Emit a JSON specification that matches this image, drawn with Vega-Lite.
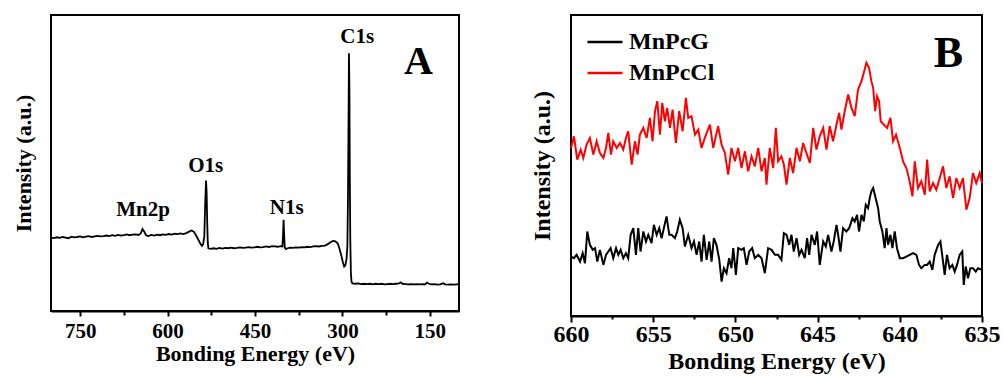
{
"$schema": "https://vega.github.io/schema/vega-lite/v6.json",
"background": "white",
"padding": {"left": 11, "top": 14, "right": 0, "bottom": 0},
"spacing": 65,
"config": {
 "view": {"stroke": "black", "strokeWidth": 2},
 "axis": {"grid": false, "domainColor": "black", "domainWidth": 2, "tickColor": "black", "tickWidth": 2, "labelColor": "black", "titleColor": "black", "labelFont": "'Liberation Serif', 'DejaVu Serif', serif", "titleFont": "'Liberation Serif', 'DejaVu Serif', serif", "labelFontWeight": "bold", "titleFontWeight": "bold", "labelOverlap": false, "labelFlush": false},
 "text": {"font": "'Liberation Serif', 'DejaVu Serif', serif", "fontWeight": "bold", "color": "black"}
},
"datasets": {
 "survey": [
  {"energy":800,"intensity":24.8},{"energy":795,"intensity":24.6},{"energy":790,"intensity":24.9},{"energy":785,"intensity":24.7},{"energy":780,"intensity":25.0},{"energy":775,"intensity":24.8},{"energy":770,"intensity":24.6},{"energy":765,"intensity":25.1},{"energy":760,"intensity":24.9},{"energy":755,"intensity":25.0},{"energy":750,"intensity":25.2},{"energy":745,"intensity":24.9},{"energy":740,"intensity":25.1},{"energy":735,"intensity":25.3},{"energy":730,"intensity":25.0},{"energy":725,"intensity":25.2},{"energy":720,"intensity":25.4},{"energy":715,"intensity":25.2},{"energy":710,"intensity":25.3},{"energy":705,"intensity":25.5},{"energy":700,"intensity":25.3},{"energy":695,"intensity":25.6},{"energy":690,"intensity":25.4},{"energy":685,"intensity":25.7},{"energy":680,"intensity":25.5},{"energy":675,"intensity":25.6},{"energy":670,"intensity":25.9},{"energy":665,"intensity":25.6},{"energy":660,"intensity":25.8},{"energy":655,"intensity":25.9},{"energy":650,"intensity":25.7},{"energy":646,"intensity":26.2},{"energy":643,"intensity":27.7},{"energy":640,"intensity":26.8},{"energy":637,"intensity":25.6},{"energy":633,"intensity":25.3},{"energy":628,"intensity":25.7},{"energy":623,"intensity":25.5},{"energy":618,"intensity":25.8},{"energy":613,"intensity":25.6},{"energy":608,"intensity":25.9},{"energy":603,"intensity":25.7},{"energy":598,"intensity":26.0},{"energy":593,"intensity":25.8},{"energy":588,"intensity":26.1},{"energy":583,"intensity":26.0},{"energy":578,"intensity":26.2},{"energy":573,"intensity":26.0},{"energy":568,"intensity":26.3},{"energy":563,"intensity":26.8},{"energy":559,"intensity":27.2},{"energy":555,"intensity":26.8},{"energy":551,"intensity":25.5},{"energy":547,"intensity":24.0},{"energy":544,"intensity":22.8},{"energy":541,"intensity":22.0},{"energy":539,"intensity":22.6},{"energy":537,"intensity":25.0},{"energy":535.5,"intensity":36.0},{"energy":534,"intensity":44.1},{"energy":533,"intensity":40.0},{"energy":532,"intensity":30.0},{"energy":531,"intensity":23.0},{"energy":530,"intensity":21.2},{"energy":526,"intensity":21.0},{"energy":521,"intensity":21.2},{"energy":516,"intensity":21.0},{"energy":511,"intensity":21.3},{"energy":506,"intensity":21.1},{"energy":501,"intensity":21.3},{"energy":496,"intensity":21.2},{"energy":491,"intensity":21.4},{"energy":486,"intensity":21.2},{"energy":481,"intensity":21.3},{"energy":476,"intensity":21.5},{"energy":471,"intensity":21.3},{"energy":466,"intensity":21.4},{"energy":461,"intensity":21.6},{"energy":456,"intensity":21.4},{"energy":451,"intensity":21.5},{"energy":446,"intensity":21.7},{"energy":441,"intensity":21.5},{"energy":436,"intensity":21.6},{"energy":431,"intensity":21.8},{"energy":426,"intensity":21.6},{"energy":421,"intensity":21.9},{"energy":416,"intensity":21.8},{"energy":411,"intensity":21.7},{"energy":406,"intensity":21.9},{"energy":403,"intensity":21.8},{"energy":402,"intensity":25.0},{"energy":401,"intensity":30.8},{"energy":400,"intensity":26.0},{"energy":399,"intensity":21.5},{"energy":397,"intensity":20.9},{"energy":394,"intensity":21.2},{"energy":390,"intensity":21.4},{"energy":385,"intensity":21.3},{"energy":380,"intensity":21.5},{"energy":375,"intensity":21.4},{"energy":370,"intensity":21.6},{"energy":365,"intensity":21.5},{"energy":360,"intensity":21.7},{"energy":355,"intensity":21.6},{"energy":350,"intensity":21.8},{"energy":345,"intensity":21.9},{"energy":340,"intensity":21.8},{"energy":335,"intensity":22.0},{"energy":330,"intensity":22.1},{"energy":325,"intensity":22.6},{"energy":320,"intensity":23.3},{"energy":316,"intensity":23.7},{"energy":312,"intensity":23.5},{"energy":308,"intensity":22.8},{"energy":305,"intensity":21.0},{"energy":302,"intensity":18.8},{"energy":299,"intensity":16.3},{"energy":297,"intensity":15.0},{"energy":295,"intensity":15.4},{"energy":293,"intensity":17.5},{"energy":291.5,"intensity":22.0},{"energy":290.5,"intensity":38.0},{"energy":289.5,"intensity":65.0},{"energy":288.8,"intensity":87.1},{"energy":288,"intensity":75.0},{"energy":287.3,"intensity":45.0},{"energy":286.5,"intensity":24.0},{"energy":285.5,"intensity":13.0},{"energy":284.5,"intensity":10.0},{"energy":283,"intensity":9.3},{"energy":278,"intensity":9.2},{"energy":273,"intensity":9.3},{"energy":268,"intensity":9.1},{"energy":263,"intensity":9.2},{"energy":258,"intensity":9.1},{"energy":253,"intensity":9.2},{"energy":248,"intensity":9.0},{"energy":243,"intensity":9.2},{"energy":238,"intensity":9.1},{"energy":233,"intensity":9.2},{"energy":228,"intensity":9.0},{"energy":223,"intensity":9.1},{"energy":218,"intensity":9.2},{"energy":213,"intensity":9.1},{"energy":208,"intensity":9.2},{"energy":203,"intensity":9.3},{"energy":200,"intensity":9.7},{"energy":197,"intensity":9.2},{"energy":192,"intensity":9.1},{"energy":187,"intensity":9.0},{"energy":182,"intensity":9.1},{"energy":177,"intensity":9.0},{"energy":172,"intensity":9.1},{"energy":167,"intensity":9.0},{"energy":162,"intensity":9.1},{"energy":158,"intensity":9.0},{"energy":155,"intensity":9.6},{"energy":152,"intensity":9.2},{"energy":147,"intensity":9.0},{"energy":142,"intensity":9.1},{"energy":137,"intensity":8.9},{"energy":132,"intensity":9.0},{"energy":127,"intensity":9.4},{"energy":124,"intensity":9.0},{"energy":119,"intensity":8.9},{"energy":114,"intensity":9.0},{"energy":109,"intensity":8.9},{"energy":104,"intensity":9.0},{"energy":100,"intensity":9.0}
 ],
 "peaks": [
  {"label":"Mn2p","energy":642,"intensity":34.2},
  {"label":"O1s","energy":534.6,"intensity":48.9},
  {"label":"N1s","energy":395.5,"intensity":34.8},
  {"label":"C1s","energy":274.5,"intensity":92.4}
 ],
 "panelA": [{"label":"A","energy":169.4,"intensity":84.2}],
 "panelB": [{"label":"B","energy":637.05,"intensity":783}],
 "mn2p": [
  {"sample":"MnPcCl","energy":660.00,"intensity":503},{"sample":"MnPcCl","energy":659.82,"intensity":538},{"sample":"MnPcCl","energy":659.62,"intensity":468},{"sample":"MnPcCl","energy":659.41,"intensity":498},{"sample":"MnPcCl","energy":659.25,"intensity":473},{"sample":"MnPcCl","energy":659.05,"intensity":513},{"sample":"MnPcCl","energy":658.85,"intensity":533},{"sample":"MnPcCl","energy":658.64,"intensity":483},{"sample":"MnPcCl","energy":658.44,"intensity":523},{"sample":"MnPcCl","energy":658.24,"intensity":488},{"sample":"MnPcCl","energy":658.03,"intensity":473},{"sample":"MnPcCl","energy":657.87,"intensity":503},{"sample":"MnPcCl","energy":657.73,"intensity":548},{"sample":"MnPcCl","energy":657.57,"intensity":483},{"sample":"MnPcCl","energy":657.43,"intensity":523},{"sample":"MnPcCl","energy":657.22,"intensity":503},{"sample":"MnPcCl","energy":657.02,"intensity":518},{"sample":"MnPcCl","energy":656.82,"intensity":498},{"sample":"MnPcCl","energy":656.66,"intensity":533},{"sample":"MnPcCl","energy":656.52,"intensity":553},{"sample":"MnPcCl","energy":656.31,"intensity":453},{"sample":"MnPcCl","energy":656.11,"intensity":523},{"sample":"MnPcCl","energy":655.95,"intensity":483},{"sample":"MnPcCl","energy":655.81,"intensity":543},{"sample":"MnPcCl","energy":655.60,"intensity":563},{"sample":"MnPcCl","energy":655.40,"intensity":533},{"sample":"MnPcCl","energy":655.20,"intensity":593},{"sample":"MnPcCl","energy":655.04,"intensity":523},{"sample":"MnPcCl","energy":654.89,"intensity":613},{"sample":"MnPcCl","energy":654.75,"intensity":643},{"sample":"MnPcCl","energy":654.59,"intensity":543},{"sample":"MnPcCl","energy":654.45,"intensity":638},{"sample":"MnPcCl","energy":654.29,"intensity":583},{"sample":"MnPcCl","energy":654.15,"intensity":623},{"sample":"MnPcCl","energy":653.98,"intensity":563},{"sample":"MnPcCl","energy":653.82,"intensity":618},{"sample":"MnPcCl","energy":653.62,"intensity":518},{"sample":"MnPcCl","energy":653.42,"intensity":613},{"sample":"MnPcCl","energy":653.21,"intensity":553},{"sample":"MnPcCl","energy":653.01,"intensity":653},{"sample":"MnPcCl","energy":652.87,"intensity":593},{"sample":"MnPcCl","energy":652.67,"intensity":598},{"sample":"MnPcCl","energy":652.46,"intensity":543},{"sample":"MnPcCl","energy":652.26,"intensity":558},{"sample":"MnPcCl","energy":652.06,"intensity":503},{"sample":"MnPcCl","energy":651.86,"intensity":533},{"sample":"MnPcCl","energy":651.55,"intensity":573},{"sample":"MnPcCl","energy":651.35,"intensity":503},{"sample":"MnPcCl","energy":651.05,"intensity":568},{"sample":"MnPcCl","energy":650.84,"intensity":513},{"sample":"MnPcCl","energy":650.64,"intensity":488},{"sample":"MnPcCl","energy":650.44,"intensity":423},{"sample":"MnPcCl","energy":650.24,"intensity":503},{"sample":"MnPcCl","energy":650.03,"intensity":463},{"sample":"MnPcCl","energy":649.83,"intensity":503},{"sample":"MnPcCl","energy":649.63,"intensity":443},{"sample":"MnPcCl","energy":649.42,"intensity":493},{"sample":"MnPcCl","energy":649.22,"intensity":433},{"sample":"MnPcCl","energy":649.02,"intensity":478},{"sample":"MnPcCl","energy":648.82,"intensity":448},{"sample":"MnPcCl","energy":648.61,"intensity":503},{"sample":"MnPcCl","energy":648.41,"intensity":433},{"sample":"MnPcCl","energy":648.21,"intensity":473},{"sample":"MnPcCl","energy":648.11,"intensity":393},{"sample":"MnPcCl","energy":647.91,"intensity":503},{"sample":"MnPcCl","energy":647.70,"intensity":443},{"sample":"MnPcCl","energy":647.54,"intensity":563},{"sample":"MnPcCl","energy":647.40,"intensity":463},{"sample":"MnPcCl","energy":647.20,"intensity":478},{"sample":"MnPcCl","energy":647.05,"intensity":453},{"sample":"MnPcCl","energy":646.89,"intensity":393},{"sample":"MnPcCl","energy":646.69,"intensity":473},{"sample":"MnPcCl","energy":646.49,"intensity":428},{"sample":"MnPcCl","energy":646.28,"intensity":503},{"sample":"MnPcCl","energy":646.08,"intensity":463},{"sample":"MnPcCl","energy":645.88,"intensity":518},{"sample":"MnPcCl","energy":645.68,"intensity":488},{"sample":"MnPcCl","energy":645.47,"intensity":458},{"sample":"MnPcCl","energy":645.27,"intensity":563},{"sample":"MnPcCl","energy":645.07,"intensity":498},{"sample":"MnPcCl","energy":644.87,"intensity":538},{"sample":"MnPcCl","energy":644.66,"intensity":563},{"sample":"MnPcCl","energy":644.46,"intensity":498},{"sample":"MnPcCl","energy":644.26,"intensity":568},{"sample":"MnPcCl","energy":644.06,"intensity":523},{"sample":"MnPcCl","energy":643.85,"intensity":573},{"sample":"MnPcCl","energy":643.69,"intensity":608},{"sample":"MnPcCl","energy":643.55,"intensity":558},{"sample":"MnPcCl","energy":643.35,"intensity":613},{"sample":"MnPcCl","energy":643.14,"intensity":663},{"sample":"MnPcCl","energy":642.94,"intensity":623},{"sample":"MnPcCl","energy":642.74,"intensity":598},{"sample":"MnPcCl","energy":642.54,"intensity":678},{"sample":"MnPcCl","energy":642.33,"intensity":703},{"sample":"MnPcCl","energy":642.19,"intensity":728},{"sample":"MnPcCl","energy":642.03,"intensity":758},{"sample":"MnPcCl","energy":641.87,"intensity":743},{"sample":"MnPcCl","energy":641.73,"intensity":703},{"sample":"MnPcCl","energy":641.62,"intensity":683},{"sample":"MnPcCl","energy":641.50,"intensity":613},{"sample":"MnPcCl","energy":641.38,"intensity":658},{"sample":"MnPcCl","energy":641.26,"intensity":643},{"sample":"MnPcCl","energy":641.16,"intensity":583},{"sample":"MnPcCl","energy":640.98,"intensity":573},{"sample":"MnPcCl","energy":640.77,"intensity":563},{"sample":"MnPcCl","energy":640.57,"intensity":593},{"sample":"MnPcCl","energy":640.41,"intensity":523},{"sample":"MnPcCl","energy":640.23,"intensity":543},{"sample":"MnPcCl","energy":640.00,"intensity":503},{"sample":"MnPcCl","energy":639.80,"intensity":463},{"sample":"MnPcCl","energy":639.60,"intensity":443},{"sample":"MnPcCl","energy":639.40,"intensity":403},{"sample":"MnPcCl","energy":639.23,"intensity":358},{"sample":"MnPcCl","energy":639.09,"intensity":463},{"sample":"MnPcCl","energy":638.89,"intensity":383},{"sample":"MnPcCl","energy":638.69,"intensity":403},{"sample":"MnPcCl","energy":638.48,"intensity":363},{"sample":"MnPcCl","energy":638.34,"intensity":468},{"sample":"MnPcCl","energy":638.18,"intensity":373},{"sample":"MnPcCl","energy":637.98,"intensity":398},{"sample":"MnPcCl","energy":637.78,"intensity":378},{"sample":"MnPcCl","energy":637.57,"intensity":413},{"sample":"MnPcCl","energy":637.37,"intensity":448},{"sample":"MnPcCl","energy":637.17,"intensity":383},{"sample":"MnPcCl","energy":636.97,"intensity":418},{"sample":"MnPcCl","energy":636.76,"intensity":353},{"sample":"MnPcCl","energy":636.56,"intensity":413},{"sample":"MnPcCl","energy":636.36,"intensity":383},{"sample":"MnPcCl","energy":636.16,"intensity":413},{"sample":"MnPcCl","energy":635.95,"intensity":318},{"sample":"MnPcCl","energy":635.75,"intensity":353},{"sample":"MnPcCl","energy":635.55,"intensity":428},{"sample":"MnPcCl","energy":635.35,"intensity":398},{"sample":"MnPcCl","energy":635.14,"intensity":428},{"sample":"MnPcCl","energy":635.00,"intensity":398},
  {"sample":"MnPcG","energy":660.00,"intensity":178},{"sample":"MnPcG","energy":659.82,"intensity":173},{"sample":"MnPcG","energy":659.66,"intensity":183},{"sample":"MnPcG","energy":659.45,"intensity":163},{"sample":"MnPcG","energy":659.29,"intensity":188},{"sample":"MnPcG","energy":659.15,"intensity":158},{"sample":"MnPcG","energy":659.01,"intensity":253},{"sample":"MnPcG","energy":658.85,"intensity":213},{"sample":"MnPcG","energy":658.68,"intensity":198},{"sample":"MnPcG","energy":658.54,"intensity":203},{"sample":"MnPcG","energy":658.40,"intensity":163},{"sample":"MnPcG","energy":658.24,"intensity":198},{"sample":"MnPcG","energy":658.03,"intensity":153},{"sample":"MnPcG","energy":657.87,"intensity":183},{"sample":"MnPcG","energy":657.73,"intensity":193},{"sample":"MnPcG","energy":657.59,"intensity":203},{"sample":"MnPcG","energy":657.43,"intensity":173},{"sample":"MnPcG","energy":657.26,"intensity":203},{"sample":"MnPcG","energy":657.12,"intensity":183},{"sample":"MnPcG","energy":656.98,"intensity":198},{"sample":"MnPcG","energy":656.82,"intensity":173},{"sample":"MnPcG","energy":656.66,"intensity":188},{"sample":"MnPcG","energy":656.52,"intensity":173},{"sample":"MnPcG","energy":656.37,"intensity":243},{"sample":"MnPcG","energy":656.21,"intensity":263},{"sample":"MnPcG","energy":656.05,"intensity":183},{"sample":"MnPcG","energy":655.91,"intensity":263},{"sample":"MnPcG","energy":655.77,"intensity":193},{"sample":"MnPcG","energy":655.60,"intensity":253},{"sample":"MnPcG","energy":655.44,"intensity":223},{"sample":"MnPcG","energy":655.30,"intensity":243},{"sample":"MnPcG","energy":655.10,"intensity":218},{"sample":"MnPcG","energy":654.96,"intensity":273},{"sample":"MnPcG","energy":654.79,"intensity":243},{"sample":"MnPcG","energy":654.63,"intensity":263},{"sample":"MnPcG","energy":654.49,"intensity":233},{"sample":"MnPcG","energy":654.35,"intensity":263},{"sample":"MnPcG","energy":654.19,"intensity":298},{"sample":"MnPcG","energy":654.02,"intensity":243},{"sample":"MnPcG","energy":653.88,"intensity":243},{"sample":"MnPcG","energy":653.68,"intensity":233},{"sample":"MnPcG","energy":653.54,"intensity":253},{"sample":"MnPcG","energy":653.38,"intensity":288},{"sample":"MnPcG","energy":653.21,"intensity":263},{"sample":"MnPcG","energy":653.07,"intensity":208},{"sample":"MnPcG","energy":652.87,"intensity":243},{"sample":"MnPcG","energy":652.67,"intensity":203},{"sample":"MnPcG","energy":652.52,"intensity":223},{"sample":"MnPcG","energy":652.36,"intensity":183},{"sample":"MnPcG","energy":652.20,"intensity":223},{"sample":"MnPcG","energy":652.06,"intensity":163},{"sample":"MnPcG","energy":651.92,"intensity":243},{"sample":"MnPcG","energy":651.75,"intensity":168},{"sample":"MnPcG","energy":651.59,"intensity":223},{"sample":"MnPcG","energy":651.45,"intensity":163},{"sample":"MnPcG","energy":651.31,"intensity":233},{"sample":"MnPcG","energy":651.15,"intensity":213},{"sample":"MnPcG","energy":650.98,"intensity":168},{"sample":"MnPcG","energy":650.84,"intensity":103},{"sample":"MnPcG","energy":650.70,"intensity":143},{"sample":"MnPcG","energy":650.54,"intensity":128},{"sample":"MnPcG","energy":650.38,"intensity":173},{"sample":"MnPcG","energy":650.24,"intensity":143},{"sample":"MnPcG","energy":650.13,"intensity":203},{"sample":"MnPcG","energy":649.97,"intensity":123},{"sample":"MnPcG","energy":649.83,"intensity":203},{"sample":"MnPcG","energy":649.63,"intensity":198},{"sample":"MnPcG","energy":649.49,"intensity":203},{"sample":"MnPcG","energy":649.32,"intensity":153},{"sample":"MnPcG","energy":649.16,"intensity":193},{"sample":"MnPcG","energy":648.98,"intensity":203},{"sample":"MnPcG","energy":648.82,"intensity":173},{"sample":"MnPcG","energy":648.61,"intensity":183},{"sample":"MnPcG","energy":648.41,"intensity":173},{"sample":"MnPcG","energy":648.21,"intensity":128},{"sample":"MnPcG","energy":648.01,"intensity":203},{"sample":"MnPcG","energy":647.80,"intensity":198},{"sample":"MnPcG","energy":647.60,"intensity":183},{"sample":"MnPcG","energy":647.40,"intensity":183},{"sample":"MnPcG","energy":647.20,"intensity":168},{"sample":"MnPcG","energy":647.05,"intensity":248},{"sample":"MnPcG","energy":646.89,"intensity":243},{"sample":"MnPcG","energy":646.73,"intensity":213},{"sample":"MnPcG","energy":646.59,"intensity":243},{"sample":"MnPcG","energy":646.45,"intensity":193},{"sample":"MnPcG","energy":646.28,"intensity":233},{"sample":"MnPcG","energy":646.12,"intensity":183},{"sample":"MnPcG","energy":645.98,"intensity":198},{"sample":"MnPcG","energy":645.78,"intensity":173},{"sample":"MnPcG","energy":645.64,"intensity":233},{"sample":"MnPcG","energy":645.51,"intensity":183},{"sample":"MnPcG","energy":645.37,"intensity":243},{"sample":"MnPcG","energy":645.17,"intensity":213},{"sample":"MnPcG","energy":645.03,"intensity":253},{"sample":"MnPcG","energy":644.87,"intensity":153},{"sample":"MnPcG","energy":644.66,"intensity":223},{"sample":"MnPcG","energy":644.50,"intensity":208},{"sample":"MnPcG","energy":644.36,"intensity":243},{"sample":"MnPcG","energy":644.16,"intensity":193},{"sample":"MnPcG","energy":644.02,"intensity":223},{"sample":"MnPcG","energy":643.85,"intensity":273},{"sample":"MnPcG","energy":643.75,"intensity":243},{"sample":"MnPcG","energy":643.61,"intensity":193},{"sample":"MnPcG","energy":643.45,"intensity":263},{"sample":"MnPcG","energy":643.25,"intensity":253},{"sample":"MnPcG","energy":643.08,"intensity":263},{"sample":"MnPcG","energy":642.88,"intensity":293},{"sample":"MnPcG","energy":642.74,"intensity":283},{"sample":"MnPcG","energy":642.60,"intensity":303},{"sample":"MnPcG","energy":642.48,"intensity":253},{"sample":"MnPcG","energy":642.33,"intensity":303},{"sample":"MnPcG","energy":642.19,"intensity":283},{"sample":"MnPcG","energy":642.07,"intensity":333},{"sample":"MnPcG","energy":641.93,"intensity":323},{"sample":"MnPcG","energy":641.83,"intensity":353},{"sample":"MnPcG","energy":641.73,"intensity":373},{"sample":"MnPcG","energy":641.62,"intensity":383},{"sample":"MnPcG","energy":641.52,"intensity":363},{"sample":"MnPcG","energy":641.42,"intensity":343},{"sample":"MnPcG","energy":641.32,"intensity":323},{"sample":"MnPcG","energy":641.22,"intensity":283},{"sample":"MnPcG","energy":641.06,"intensity":253},{"sample":"MnPcG","energy":640.92,"intensity":203},{"sample":"MnPcG","energy":640.81,"intensity":263},{"sample":"MnPcG","energy":640.71,"intensity":213},{"sample":"MnPcG","energy":640.57,"intensity":243},{"sample":"MnPcG","energy":640.45,"intensity":203},{"sample":"MnPcG","energy":640.31,"intensity":253},{"sample":"MnPcG","energy":640.17,"intensity":203},{"sample":"MnPcG","energy":640.00,"intensity":173},{"sample":"MnPcG","energy":639.80,"intensity":173},{"sample":"MnPcG","energy":639.60,"intensity":178},{"sample":"MnPcG","energy":639.40,"intensity":183},{"sample":"MnPcG","energy":639.19,"intensity":188},{"sample":"MnPcG","energy":638.99,"intensity":183},{"sample":"MnPcG","energy":638.83,"intensity":153},{"sample":"MnPcG","energy":638.69,"intensity":143},{"sample":"MnPcG","energy":638.48,"intensity":153},{"sample":"MnPcG","energy":638.34,"intensity":153},{"sample":"MnPcG","energy":638.18,"intensity":163},{"sample":"MnPcG","energy":638.02,"intensity":138},{"sample":"MnPcG","energy":637.88,"intensity":183},{"sample":"MnPcG","energy":637.67,"intensity":213},{"sample":"MnPcG","energy":637.53,"intensity":223},{"sample":"MnPcG","energy":637.37,"intensity":163},{"sample":"MnPcG","energy":637.27,"intensity":123},{"sample":"MnPcG","energy":637.13,"intensity":183},{"sample":"MnPcG","energy":636.97,"intensity":143},{"sample":"MnPcG","energy":636.80,"intensity":153},{"sample":"MnPcG","energy":636.66,"intensity":133},{"sample":"MnPcG","energy":636.52,"intensity":153},{"sample":"MnPcG","energy":636.36,"intensity":183},{"sample":"MnPcG","energy":636.20,"intensity":193},{"sample":"MnPcG","energy":636.11,"intensity":93},{"sample":"MnPcG","energy":635.99,"intensity":148},{"sample":"MnPcG","energy":635.85,"intensity":113},{"sample":"MnPcG","energy":635.71,"intensity":143},{"sample":"MnPcG","energy":635.55,"intensity":143},{"sample":"MnPcG","energy":635.38,"intensity":133},{"sample":"MnPcG","energy":635.24,"intensity":143},{"sample":"MnPcG","energy":635.00,"intensity":138}
 ]
},
"hconcat": [
 {
  "width": 408, "height": 296,
  "encoding": {
   "x": {"field": "energy", "type": "quantitative", "title": "Bonding Energy (eV)",
    "scale": {"domain": [100, 800], "reverse": true, "nice": false, "zero": false},
    "axis": {"values": [750, 675, 600, 525, 450, 375, 300, 225, 150], "labelExpr": "datum.value % 150 === 0 ? datum.label : ''",
     "tickSize": {"condition": {"test": "datum.value % 150 === 0", "value": 5}, "value": 4},
     "labelFontSize": 21, "titleFontSize": 22, "labelPadding": 4, "titlePadding": 2}},
   "y": {"field": "intensity", "type": "quantitative", "title": "Intensity (a.u.)",
    "scale": {"domain": [0, 100], "nice": false, "zero": false},
    "axis": {"labels": false, "ticks": false, "domain": false, "titleFontSize": 22, "titlePadding": 16}}
  },
  "layer": [
   {"data": {"name": "survey"}, "mark": {"type": "line", "color": "black", "strokeWidth": 1.8}},
   {"data": {"name": "peaks"}, "mark": {"type": "text", "fontSize": 21, "align": "center", "baseline": "middle"}, "encoding": {"text": {"field": "label"}}},
   {"data": {"name": "panelA"}, "mark": {"type": "text", "fontSize": 40, "align": "center", "baseline": "middle"}, "encoding": {"text": {"field": "label"}}}
  ]
 },
 {
  "width": 411, "height": 301,
  "encoding": {
   "x": {"field": "energy", "type": "quantitative", "title": "Bonding Energy (eV)",
    "scale": {"domain": [635, 660], "reverse": true, "nice": false, "zero": false},
    "axis": {"values": [660, 657.5, 655, 652.5, 650, 647.5, 645, 642.5, 640, 637.5, 635], "labelExpr": "datum.value % 5 === 0 ? datum.label : ''",
     "tickSize": {"condition": {"test": "datum.value % 5 === 0", "value": 6}, "value": 3},
     "labelFontSize": 24, "titleFontSize": 24, "labelPadding": 0, "titlePadding": 3}},
   "y": {"field": "intensity", "type": "quantitative", "title": "Intensity (a.u.)",
    "scale": {"domain": [0, 901], "nice": false, "zero": false},
    "axis": {"labels": false, "ticks": false, "domain": false, "titleFontSize": 24, "titlePadding": 17}}
  },
  "layer": [
   {"data": {"name": "mn2p"}, "mark": {"type": "line", "strokeWidth": 2},
    "encoding": {"color": {"field": "sample", "type": "nominal",
     "scale": {"domain": ["MnPcG", "MnPcCl"], "range": ["#000000", "#ff0000"]},
     "legend": {"title": null, "orient": "none", "legendX": 535, "legendY": 8, "symbolType": "stroke", "symbolSize": 1225, "symbolStrokeWidth": 2.5,
      "labelFontSize": 24, "labelFont": "'Liberation Serif', 'DejaVu Serif', serif", "labelFontWeight": "bold", "labelColor": "black", "labelOffset": 5, "rowPadding": -1}}}},
   {"data": {"name": "panelB"}, "mark": {"type": "text", "fontSize": 44, "align": "center", "baseline": "middle"}, "encoding": {"text": {"field": "label"}}}
  ]
 }
]
}
